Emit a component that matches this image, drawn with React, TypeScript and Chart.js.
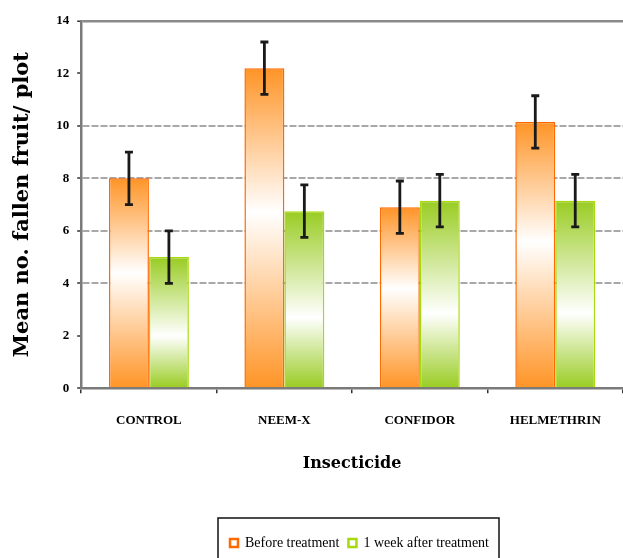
import React, { useEffect, useRef } from "react";
import { Chart, registerables } from "chart.js";

Chart.register(...registerables);

const categories = ["CONTROL", "NEEM-X", "CONFIDOR", "HELMETHRIN"];
const beforeValues = [8.0, 12.2, 6.9, 10.15];
const beforeErrors = [1.0, 1.0, 1.0, 1.0];
const afterValues = [5.0, 6.75, 7.15, 7.15];
const afterErrors = [1.0, 1.0, 1.0, 1.0];
const seriesLabels = ["Before treatment", "1 week after treatment"];
const yTicks = [0, 2, 4, 6, 8, 10, 12, 14];

const ORANGE = "#FF9426";
const ORANGE_EDGE = "#FF6A00";
const GREEN = "#99CC22";
const GREEN_EDGE = "#A6DA0E";

function gradientFor(color: string, whiteAt: number) {
  return (c: any) => {
    const chart = c.chart;
    const area = chart.chartArea;
    if (!area || c.type !== "data" || !c.parsed) return color;
    const ys = chart.scales.y;
    const top = ys.getPixelForValue(c.parsed.y);
    const bottom = ys.getPixelForValue(0);
    if (!isFinite(top) || !isFinite(bottom) || bottom - top < 1) return color;
    const g = chart.ctx.createLinearGradient(0, top, 0, bottom);
    g.addColorStop(0, color);
    g.addColorStop(whiteAt, "#FFFFFF");
    g.addColorStop(1, color);
    return g;
  };
}

const errorBarPlugin = {
  id: "errorBars",
  afterDatasetsDraw(chart: any) {
    const { ctx } = chart;
    const ys = chart.scales.y;
    const errs = [beforeErrors, afterErrors];
    chart.data.datasets.forEach((ds: any, i: number) => {
      const meta = chart.getDatasetMeta(i);
      meta.data.forEach((bar: any, j: number) => {
        const v = ds.data[j];
        const e = errs[i][j];
        const yt = ys.getPixelForValue(v + e);
        const yb = ys.getPixelForValue(v - e);
        ctx.save();
        ctx.strokeStyle = "#1a1a1a";
        ctx.lineWidth = 2.8;
        ctx.beginPath();
        ctx.moveTo(bar.x, yt);
        ctx.lineTo(bar.x, yb);
        ctx.moveTo(bar.x - 4, yt);
        ctx.lineTo(bar.x + 4, yt);
        ctx.moveTo(bar.x - 4, yb);
        ctx.lineTo(bar.x + 4, yb);
        ctx.stroke();
        ctx.restore();
      });
    });
  },
};

const legendShiftPlugin = {
  id: "legendShift",
  afterLayout(chart: any) {
    const lg = chart.legend;
    if (!lg) return;
    lg.left += 43;
    lg.right += 43;
    lg.top += 2;
    lg.bottom += 2;
  },
};

const legendBoxPlugin = {
  id: "legendBox",
  afterDraw(chart: any) {
    const lg = chart.legend;
    if (!lg || !lg.legendHitBoxes || !lg.legendHitBoxes.length) return;
    const boxes = lg.legendHitBoxes;
    let l = Infinity, t = Infinity, r = -Infinity;
    boxes.forEach((h: any) => {
      l = Math.min(l, h.left);
      t = Math.min(t, h.top);
      r = Math.max(r, h.left + h.width);
    });
    const { ctx } = chart;
    ctx.save();
    ctx.strokeStyle = "#111";
    ctx.lineWidth = 1.5;
    ctx.strokeRect(l - 12, t - 18, r - l + 22, chart.height - t + 40);
    ctx.restore();
  },
};

export default function App() {
  const ref = useRef<HTMLCanvasElement>(null);
  useEffect(() => {
    if (!ref.current) return;
    const chart = new Chart(ref.current, {
      type: "bar",
      data: {
        labels: categories,
        datasets: [
          {
            label: seriesLabels[0],
            data: beforeValues,
            backgroundColor: gradientFor(ORANGE, 0.45) as any,
            borderColor: ORANGE_EDGE,
            borderWidth: 1.5,
            barPercentage: 1.0,
            categoryPercentage: 0.59,
          },
          {
            label: seriesLabels[1],
            data: afterValues,
            backgroundColor: gradientFor(GREEN, 0.6) as any,
            borderColor: GREEN_EDGE,
            borderWidth: 1.5,
            barPercentage: 1.0,
            categoryPercentage: 0.59,
          },
        ],
      },
      options: {
        responsive: false,
        animation: false,
        layout: { padding: { left: 10, right: 0, top: 21, bottom: 0 } },
        plugins: {
          tooltip: { enabled: false },
          legend: {
            position: "bottom",
            labels: {
              font: { family: "Liberation Serif", size: 14 },
              color: "#000",
              boxWidth: 8,
              boxHeight: 8,
              padding: 9,
              generateLabels: (ch: any) =>
                ch.data.datasets.map((ds: any, i: number) => ({
                  text: ds.label,
                  fillStyle: "#FFFFFF",
                  strokeStyle: i === 0 ? ORANGE_EDGE : GREEN_EDGE,
                  lineWidth: 2.5,
                  hidden: false,
                  datasetIndex: i,
                  fontColor: "#000",
                })),
            },
          },
        },
        scales: {
          x: {
            grid: {
              drawOnChartArea: false,
              drawTicks: true,
              tickLength: 5,
              color: "#333",
              lineWidth: 1.5,
            },
            border: { color: "#7a7a7a", width: 2.5 },
            ticks: {
              color: "#000",
              padding: 20,
              font: { family: "Liberation Serif", size: 13, weight: "bold" },
            },
            title: {
              display: true,
              text: "Insecticide",
              color: "#000",
              font: { family: "DejaVu Serif", size: 16, weight: "bold" },
              padding: { top: 5, bottom: 52 },
            },
          },
          y: {
            min: 0,
            max: 14,
            afterBuildTicks: (axis: any) => {
              axis.ticks = yTicks.map((v) => ({ value: v }));
            },
            grid: {
              color: (c: any) =>
                c.tick && (c.tick.value === 2 || c.tick.value === 12)
                  ? "rgba(0,0,0,0)"
                  : c.tick && c.tick.value === 14
                  ? "#8a8a8a"
                  : "#a8a8a8",
              lineWidth: (c: any) => (c.tick && c.tick.value === 14 ? 2.5 : 2),
              drawTicks: true,
              tickLength: 4,
              tickColor: "#333",
              tickWidth: 1.5,
            },
            border: {
              color: "#7a7a7a",
              width: 2.5,
              dash: (c: any) => (c.tick && c.tick.value === 14 ? [] : [7, 2]),
            } as any,
            ticks: {
              color: "#000",
              padding: 8,
              font: { family: "Liberation Serif", size: 13, weight: "bold" },
            },
            title: {
              display: true,
              text: "Mean no. fallen fruit/ plot",
              color: "#000",
              font: { family: "DejaVu Serif", size: 21, weight: "bold" },
              padding: { top: 0, bottom: 13 },
            },
          },
        },
      },
      plugins: [legendShiftPlugin, errorBarPlugin, legendBoxPlugin],
    });
    return () => chart.destroy();
  }, []);
  return (
    <div style={{ position: "fixed", left: 0, top: 0, width: 623, height: 558, background: "#fff" }}>
      <canvas ref={ref} width={623} height={558} />
    </div>
  );
}
